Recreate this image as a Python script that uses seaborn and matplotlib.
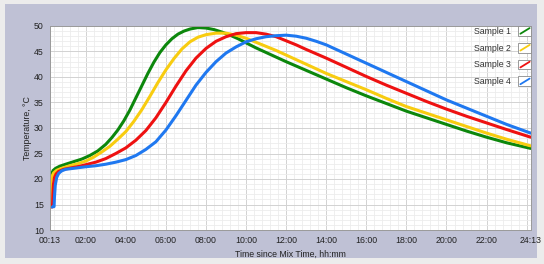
import pandas as pd
import seaborn as sns
import matplotlib.pyplot as plt
from matplotlib.patches import Rectangle
from matplotlib.lines import Line2D
from matplotlib.legend_handler import HandlerBase
from matplotlib.ticker import MultipleLocator

# time since mix time, hours (00:13 = 0.2167 h) and temperature, degC
t_s1 = [0.22, 0.25, 0.3, 0.38, 0.5, 0.7, 1.0, 1.4, 1.8, 2.2, 2.6, 3.0, 3.3, 3.6, 3.9, 4.2, 4.5,
        4.8, 5.1, 5.4, 5.7, 6.0, 6.3, 6.6, 6.9, 7.2, 7.6, 8.0, 8.4, 8.8, 9.2, 9.6, 10.0, 10.5,
        11.0, 11.5, 12.0, 13.0, 14.0, 15.0, 16.0, 17.0, 18.0, 19.0, 20.0, 21.0, 22.0, 23.0, 24.2]
temp_s1 = [19.4, 20.4, 21.1, 21.7, 22.1, 22.5, 22.9, 23.4, 23.9, 24.6, 25.5, 26.8, 28.1, 29.6,
           31.4, 33.5, 35.9, 38.3, 40.7, 42.9, 44.8, 46.3, 47.5, 48.4, 49.0, 49.4, 49.7, 49.6,
           49.3, 48.8, 48.2, 47.5, 46.7, 45.7, 44.8, 43.9, 43.0, 41.3, 39.6, 37.9, 36.3, 34.8,
           33.3, 32.0, 30.7, 29.4, 28.2, 27.1, 26.0]

t_s2 = [0.22, 0.23, 0.25, 0.3, 0.4, 0.55, 0.8, 1.2, 1.6, 2.0, 2.4, 2.8, 3.2, 3.6, 4.0, 4.4, 4.8,
        5.2, 5.6, 6.0, 6.4, 6.8, 7.2, 7.6, 8.0, 8.5, 9.0, 9.5, 10.0, 10.5, 11.0, 11.5, 12.0,
        13.0, 14.0, 15.0, 16.0, 17.0, 18.0, 19.0, 20.0, 21.0, 22.0, 23.0, 24.2]
temp_s2 = [14.5, 17.0, 19.0, 20.4, 21.2, 21.7, 22.1, 22.6, 23.0, 23.5, 24.3, 25.3, 26.4, 27.8,
           29.3, 31.3, 33.6, 36.2, 38.9, 41.4, 43.6, 45.5, 46.9, 47.8, 48.3, 48.6, 48.6, 48.2,
           47.6, 46.8, 46.0, 45.2, 44.3, 42.5, 40.7, 39.1, 37.5, 35.8, 34.2, 32.9, 31.6, 30.3,
           29.0, 27.8, 26.5]

t_s3 = [0.3, 0.34, 0.36, 0.39, 0.44, 0.52, 0.65, 0.9, 1.3, 1.7, 2.0, 2.5, 3.0, 3.5, 4.0, 4.5,
        5.0, 5.5, 6.0, 6.5, 7.0, 7.5, 8.0, 8.5, 9.0, 9.5, 10.0, 10.5, 11.0, 11.5, 12.0, 12.5,
        13.0, 14.0, 15.0, 16.0, 17.0, 18.0, 19.0, 20.0, 21.0, 22.0, 23.0, 24.2]
temp_s3 = [14.5, 14.6, 17.0, 19.0, 20.3, 21.0, 21.5, 21.9, 22.2, 22.5, 22.8, 23.3, 24.0, 25.0,
           26.1, 27.6, 29.5, 32.0, 35.0, 38.2, 41.2, 43.7, 45.6, 47.0, 47.9, 48.5, 48.7, 48.7,
           48.4, 47.9, 47.1, 46.3, 45.4, 43.7, 41.9, 40.1, 38.4, 36.8, 35.2, 33.7, 32.3, 31.0,
           29.7, 28.2]

t_s4 = [0.33, 0.42, 0.44, 0.48, 0.55, 0.65, 0.8, 1.0, 1.4, 2.0, 2.5, 3.0, 3.5, 4.0, 4.5, 5.0,
        5.5, 6.0, 6.5, 7.0, 7.5, 8.0, 8.5, 9.0, 9.5, 10.0, 10.5, 11.0, 11.5, 12.0, 12.5, 13.0,
        13.5, 14.0, 15.0, 16.0, 17.0, 18.0, 19.0, 20.0, 21.0, 22.0, 23.0, 24.2]
temp_s4 = [14.5, 14.6, 16.5, 18.8, 20.3, 21.1, 21.6, 21.9, 22.1, 22.4, 22.6, 22.9, 23.3, 23.8,
           24.6, 25.8, 27.3, 29.6, 32.4, 35.4, 38.4, 40.9, 43.0, 44.7, 45.9, 46.9, 47.5, 47.9,
           48.1, 48.2, 48.0, 47.6, 47.0, 46.3, 44.5, 42.7, 40.9, 39.1, 37.3, 35.5, 33.9, 32.3,
           30.7, 29.0]

samples = ["Sample 1", "Sample 2", "Sample 3", "Sample 4"]
colors = ["#0c870c", "#f8cc10", "#ee1111", "#1f78f0"]

x_ticks = [13 / 60, 2, 4, 6, 8, 10, 12, 14, 16, 18, 20, 22, 24, 24 + 13 / 60]
x_labels = ["00:13", "02:00", "04:00", "06:00", "08:00", "10:00", "12:00", "14:00",
            "16:00", "18:00", "20:00", "22:00", "", "24:13"]
y_ticks = [10, 15, 20, 25, 30, 35, 40, 45, 50]

frames = []
for name, t, v in zip(samples, [t_s1, t_s2, t_s3, t_s4], [temp_s1, temp_s2, temp_s3, temp_s4]):
    frames.append(pd.DataFrame({"time": t, "temp": v, "sample": name}))
df = pd.concat(frames, ignore_index=True)


class DiagHandler(HandlerBase):
    # little sunken box with a diagonal stroke, like the LabVIEW plot legend
    def create_artists(self, legend, orig_handle, xdescent, ydescent, width, height, fontsize, trans):
        box = Rectangle((-xdescent, -ydescent), width, height, facecolor="white",
                        edgecolor="#8a8a8a", linewidth=0.6, transform=trans)
        ln = Line2D([-xdescent + 1.5, -xdescent + width - 1.0],
                    [-ydescent + 1.5, -ydescent + height - 1.5],
                    color=orig_handle.get_color(), linewidth=1.3, transform=trans)
        return [box, ln]


sns.set_theme(style="white")
plt.rcParams["font.family"] = ["Liberation Sans", "DejaVu Sans"]

fig = plt.figure(figsize=(5.44, 2.64), dpi=100, facecolor="#ececec")
fig.patches.append(Rectangle((5 / 544, 6 / 264), 532 / 544, 254 / 264, transform=fig.transFigure,
                             facecolor="#bfc1d5", edgecolor="none", zorder=-5))
ax = fig.add_axes([50 / 544, 34 / 264, 481 / 544, 204 / 264])
ax.set_zorder(2)
ax.set_facecolor("white")

sns.lineplot(data=df, x="time", y="temp", hue="sample", palette=dict(zip(samples, colors)),
             estimator=None, sort=False, linewidth=2.2, ax=ax, legend=False)

ax.set_xlim(x_ticks[0], x_ticks[-1])
ax.set_ylim(10, 50)
ax.set_xticks(x_ticks)
ax.set_xticklabels(x_labels)
ax.set_yticks(y_ticks)
ax.xaxis.set_minor_locator(MultipleLocator(0.4))
ax.yaxis.set_minor_locator(MultipleLocator(1))
ax.grid(which="minor", color="#ececec", linewidth=0.6)
ax.grid(which="major", color="#d2d2d2", linewidth=0.7)
ax.set_axisbelow(True)
ax.tick_params(which="major", direction="out", length=3, width=0.7, color="#555555",
               labelsize=6.3, labelcolor="#222222", pad=1.5)
ax.tick_params(which="minor", length=0)
for s in ax.spines.values():
    s.set_color("#9a9a9a")
    s.set_linewidth(0.7)

ax.set_xlabel("Time since Mix Time, hh:mm", fontsize=6.3, color="#222222", labelpad=3)
ax.set_ylabel("Temperature, °C", fontsize=6.3, color="#222222", labelpad=1)

handles = [Line2D([], [], color=c) for c in colors]
ax.legend(handles, samples, loc="upper right", bbox_to_anchor=(1.0, 1.0), frameon=False,
          markerfirst=False, handler_map={Line2D: DiagHandler()}, handlelength=1.45,
          handleheight=1.35, handletextpad=0.8, labelspacing=0.8, borderpad=0,
          borderaxespad=0, fontsize=6.3, labelcolor="#333333")

fig.savefig("out.png", dpi=100, facecolor=fig.get_facecolor())
